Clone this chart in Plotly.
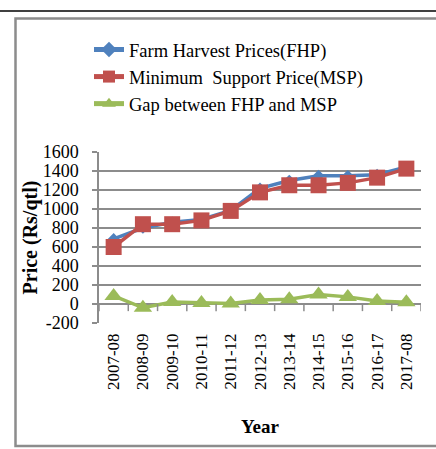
import plotly.graph_objects as go

# Bajra: farm harvest price vs minimum support price (Rs/qtl)
years = ["2007-08", "2008-09", "2009-10", "2010-11", "2011-12", "2012-13",
         "2013-14", "2014-15", "2015-16", "2016-17", "2017-08"]
fhp = [685, 800, 860, 890, 985, 1217, 1300, 1351, 1350, 1361, 1443]
msp = [600, 840, 840, 880, 980, 1175, 1250, 1250, 1275, 1330, 1425]
gap = [85, -40, 20, 10, 5, 42, 50, 101, 75, 31, 18]
y_ticks = [-200, 0, 200, 400, 600, 800, 1000, 1200, 1400, 1600]
y_labels = [str(v) for v in y_ticks]  # plain hyphen for negatives

W, H = 436, 449
L, R, T, B = 99, 421, 152, 323  # plot area in pixels


def px_x(px):
    return (px - L) / (R - L)


def px_y(py):
    return (B - py) / (B - T)


FONT = "Liberation Serif"
BLUE, RED, GREEN = "#4F81BD", "#C0504D", "#9BBB59"

fig = go.Figure()
fig.add_trace(go.Scatter(
    x=years, y=fhp, name="Farm Harvest Prices(FHP)", mode="lines+markers",
    line=dict(color=BLUE, width=3.5),
    marker=dict(symbol="diamond", size=9, color=BLUE)))
fig.add_trace(go.Scatter(
    x=years, y=msp, name="Minimum  Support Price(MSP)", mode="lines+markers",
    line=dict(color=RED, width=3.5),
    marker=dict(symbol="square", size=16, color=RED)))
fig.add_trace(go.Scatter(
    x=years, y=gap, name="Gap between FHP and MSP", mode="lines+markers",
    line=dict(color=GREEN, width=3.5),
    marker=dict(symbol="triangle-up", size=16, color=GREEN)))

shapes = [
    # rule across the top of the page
    dict(type="line", xref="paper", yref="paper",
         x0=px_x(0), x1=px_x(W), y0=px_y(11), y1=px_y(11),
         line=dict(color="#404040", width=2)),
    # chart frame
    dict(type="rect", xref="paper", yref="paper",
         x0=px_x(15.5), x1=px_x(W + 10), y0=px_y(446), y1=px_y(18.5),
         line=dict(color="#8C8C8C", width=2.5)),
]
# category tick marks hanging from the zero line
for k in range(len(years) + 1):
    shapes.append(dict(type="line", xref="x", yref="y",
                       x0=k - 0.5, x1=k - 0.5, y0=0, y1=-75,
                       line=dict(color="#8C8C8C", width=1.5)))

fig.update_layout(
    width=W, height=H,
    margin=dict(l=L, r=W - R, t=T, b=H - B, autoexpand=False),
    paper_bgcolor="white", plot_bgcolor="white",
    font=dict(family=FONT, color="black", size=17),
    showlegend=True,
    legend=dict(x=px_x(89), y=px_y(31), xanchor="left", yanchor="top",
                font=dict(size=18.5), tracegroupgap=0, traceorder="normal",
                itemsizing="constant", bgcolor="rgba(0,0,0,0)"),
    shapes=shapes,
    xaxis=dict(
        type="category", range=[-0.5, len(years) - 0.5],
        showgrid=False, showline=False, zeroline=False,
        ticks="", tickangle=-90, tickfont=dict(size=17),
        ticklabelstandoff=6,
        title=dict(text="<b>Year</b>", font=dict(size=19), standoff=30)),
    yaxis=dict(
        range=[-200, 1600], tickvals=y_ticks, ticktext=y_labels,
        showgrid=True, gridcolor="#8C8C8C", gridwidth=1.5,
        zeroline=False, showline=True, linecolor="#8C8C8C", linewidth=1.5,
        ticks="outside", ticklen=5, tickcolor="#8C8C8C", tickwidth=1.5,
        tickfont=dict(size=18), ticklabelstandoff=10,
        title=dict(text="<b>Price (Rs/qtl)</b>", font=dict(size=20), standoff=0)),
)

fig.write_html("out.html")
